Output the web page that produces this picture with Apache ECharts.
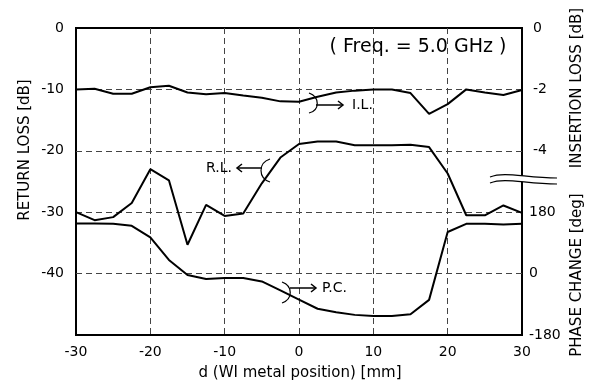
<!DOCTYPE html>
<html lang="en">
<head>
    <meta charset="UTF-8" />
    <title>Return loss / insertion loss / phase change vs WI metal position</title>
    <script src="https://cdn.jsdelivr.net/npm/echarts@6/dist/echarts.min.js"></script>
    <style>
        * { margin: 0; }
        #chart { width: 591px; height: 386px; background: #fff; }
    </style>
</head>
<body>
    <div id="chart"></div>
    <script>
        // d (WI metal position) [mm]
        const positions = [-30, -27.5, -25, -22.5, -20, -17.5, -15, -12.5, -10, -7.5, -5, -2.5, 0,
            2.5, 5, 7.5, 10, 12.5, 15, 17.5, 20, 22.5, 25, 27.5, 30];
        // return loss [dB], left axis
        const returnLoss = [-30.0, -31.3, -30.8, -28.5, -23.0, -24.8, -35.3, -28.8, -30.6, -30.2, -25.3, -21.1, -18.9,
            -18.5, -18.5, -19.1, -19.1, -19.1, -19.0, -19.4, -23.7, -30.5, -30.5, -28.9, -30.1];
        // insertion loss [dB], right upper axis
        const insertionLoss = [-2.0, -1.98, -2.14, -2.14, -1.93, -1.88, -2.1, -2.16, -2.12, -2.2, -2.27, -2.39, -2.4,
            -2.24, -2.1, -2.04, -2.0, -2.0, -2.12, -2.8, -2.48, -2.0, -2.1, -2.18, -2.02];
        // phase change [deg], right lower axis
        const phaseChange = [147, 147, 146, 140, 106, 40, -4, -16, -13, -13, -23, -49, -76,
            -103, -113, -121, -124, -124, -119, -77, 122, 146, 146, 144, 146];

        const xTicks = [-30, -20, -10, 0, 10, 20, 30];
        const rlTicks = [0, -10, -20, -30, -40];
        const ilTicks = [0, -2, -4];
        const pcTicks = [180, 0, -180];

        const font = "DejaVu Sans";
        const pairs = (ys) => positions.map((x, i) => [x, ys[i]]);
        const dashed = { show: true, showMinLine: false, showMaxLine: false,
            lineStyle: { color: "#444", type: [6, 4], width: 1 } };
        const lineSeries = (name, idx, ys) => ({
            name: name,
            type: "line",
            yAxisIndex: idx,
            data: pairs(ys),
            symbol: "none",
            smooth: false,
            lineStyle: { color: "#000", width: 2 },
            z: 5,
        });

        // small open loop + arrow used for the curve labels
        function tag(loop, from, to, label, dir) {
            const h = 5 * dir;
            return [
                { type: "bezierCurve", shape: loop, style: { stroke: "#000", lineWidth: 1.2, fill: null }, z: 20 },
                { type: "line", shape: { x1: from[0], y1: from[1], x2: to[0], y2: to[1] }, style: { stroke: "#000", lineWidth: 1.5 }, z: 20 },
                { type: "polyline", shape: { points: [[to[0] - h, to[1] - 4], [to[0], to[1]], [to[0] - h, to[1] + 4]] },
                    style: { stroke: "#000", lineWidth: 1.5, fill: null }, z: 20 },
                { type: "text", x: label[0], y: label[1],
                    style: { text: label[2], font: "14px " + font, fill: "#000", align: dir > 0 ? "left" : "right", verticalAlign: "middle" }, z: 20 },
            ];
        }

        const chart = echarts.init(document.getElementById("chart"));
        chart.setOption({
            animation: false,
            grid: { left: 76, right: 69, top: 28, bottom: 51, show: true, borderColor: "#000", borderWidth: 2, containLabel: false },
            xAxis: {
                type: "value", min: -30, max: 30, interval: 10,
                axisLine: { show: false }, axisTick: { show: false },
                axisLabel: { color: "#000", fontFamily: font, fontSize: 14, margin: 10,
                    formatter: (v) => (xTicks.includes(v) ? String(v) : "") },
                splitLine: dashed,
            },
            yAxis: [
                {
                    type: "value", min: -50, max: 0, interval: 10, position: "left",
                    axisLine: { show: false }, axisTick: { show: false },
                    axisLabel: { color: "#000", fontFamily: font, fontSize: 14, margin: 12,
                        formatter: (v) => (rlTicks.includes(v) ? String(v) : "") },
                    splitLine: dashed,
                },
                {
                    type: "value", min: -10, max: 0, interval: 2, position: "right",
                    axisLine: { show: false }, axisTick: { show: false },
                    axisLabel: { color: "#000", fontFamily: font, fontSize: 14, margin: 11,
                        formatter: (v) => (ilTicks.includes(v) ? String(v) : "") },
                    splitLine: { show: false },
                },
                {
                    type: "value", min: -180, max: 720, interval: 180, position: "right",
                    axisLine: { show: false }, axisTick: { show: false },
                    axisLabel: { color: "#000", fontFamily: font, fontSize: 14, margin: 7,
                        formatter: (v) => (pcTicks.includes(v) ? String(v) : "") },
                    splitLine: { show: false },
                },
            ],
            series: [
                lineSeries("R.L.", 0, returnLoss),
                lineSeries("I.L.", 1, insertionLoss),
                lineSeries("P.C.", 2, phaseChange),
            ],
            graphic: [
                { type: "text", x: 418, y: 47,
                    style: { text: "( Freq. = 5.0 GHz )", font: "19px " + font, fill: "#000", align: "center", verticalAlign: "middle" } },
                { type: "text", x: 300, y: 373,
                    style: { text: "d (WI metal position) [mm]", font: "15px " + font, fill: "#000", align: "center", verticalAlign: "middle" } },
                { type: "text", x: 25, y: 150, rotation: Math.PI / 2,
                    style: { text: "RETURN LOSS [dB]", font: "15px " + font, fill: "#000", align: "center", verticalAlign: "middle" } },
                { type: "text", x: 577, y: 88, rotation: Math.PI / 2,
                    style: { text: "INSERTION LOSS [dB]", font: "15px " + font, fill: "#000", align: "center", verticalAlign: "middle" } },
                { type: "text", x: 577, y: 275, rotation: Math.PI / 2,
                    style: { text: "PHASE CHANGE [deg]", font: "15px " + font, fill: "#000", align: "center", verticalAlign: "middle" } },
                // axis break
                { type: "polygon", shape: { points: [[490, 177], [505, 174], [525, 176], [557, 178], [557, 184], [525, 182], [505, 180], [490, 183]] },
                    style: { fill: "#fff" }, z: 30 },
                { type: "bezierCurve", shape: { x1: 490, y1: 177, cpx1: 505, cpy1: 171, cpx2: 525, cpy2: 178, x2: 557, y2: 178 },
                    style: { stroke: "#000", lineWidth: 1.2, fill: null }, z: 31 },
                { type: "bezierCurve", shape: { x1: 490, y1: 183, cpx1: 505, cpy1: 177, cpx2: 525, cpy2: 184, x2: 557, y2: 184 },
                    style: { stroke: "#000", lineWidth: 1.2, fill: null }, z: 31 },
                ...tag({ x1: 309, y1: 93, cpx1: 320, cpy1: 97, cpx2: 320, cpy2: 110, x2: 309, y2: 113 }, [316, 105], [343, 105], [352, 105, "I.L."], 1),
                ...tag({ x1: 270, y1: 159, cpx1: 258, cpy1: 163, cpx2: 258, cpy2: 178, x2: 270, y2: 182 }, [262, 168], [237, 168], [232, 168, "R.L."], -1),
                ...tag({ x1: 282, y1: 282, cpx1: 293, cpy1: 286, cpx2: 293, cpy2: 299, x2: 282, y2: 303 }, [290, 288], [316, 288], [322, 288, "P.C."], 1),
            ],
        });
    </script>
</body>
</html>
